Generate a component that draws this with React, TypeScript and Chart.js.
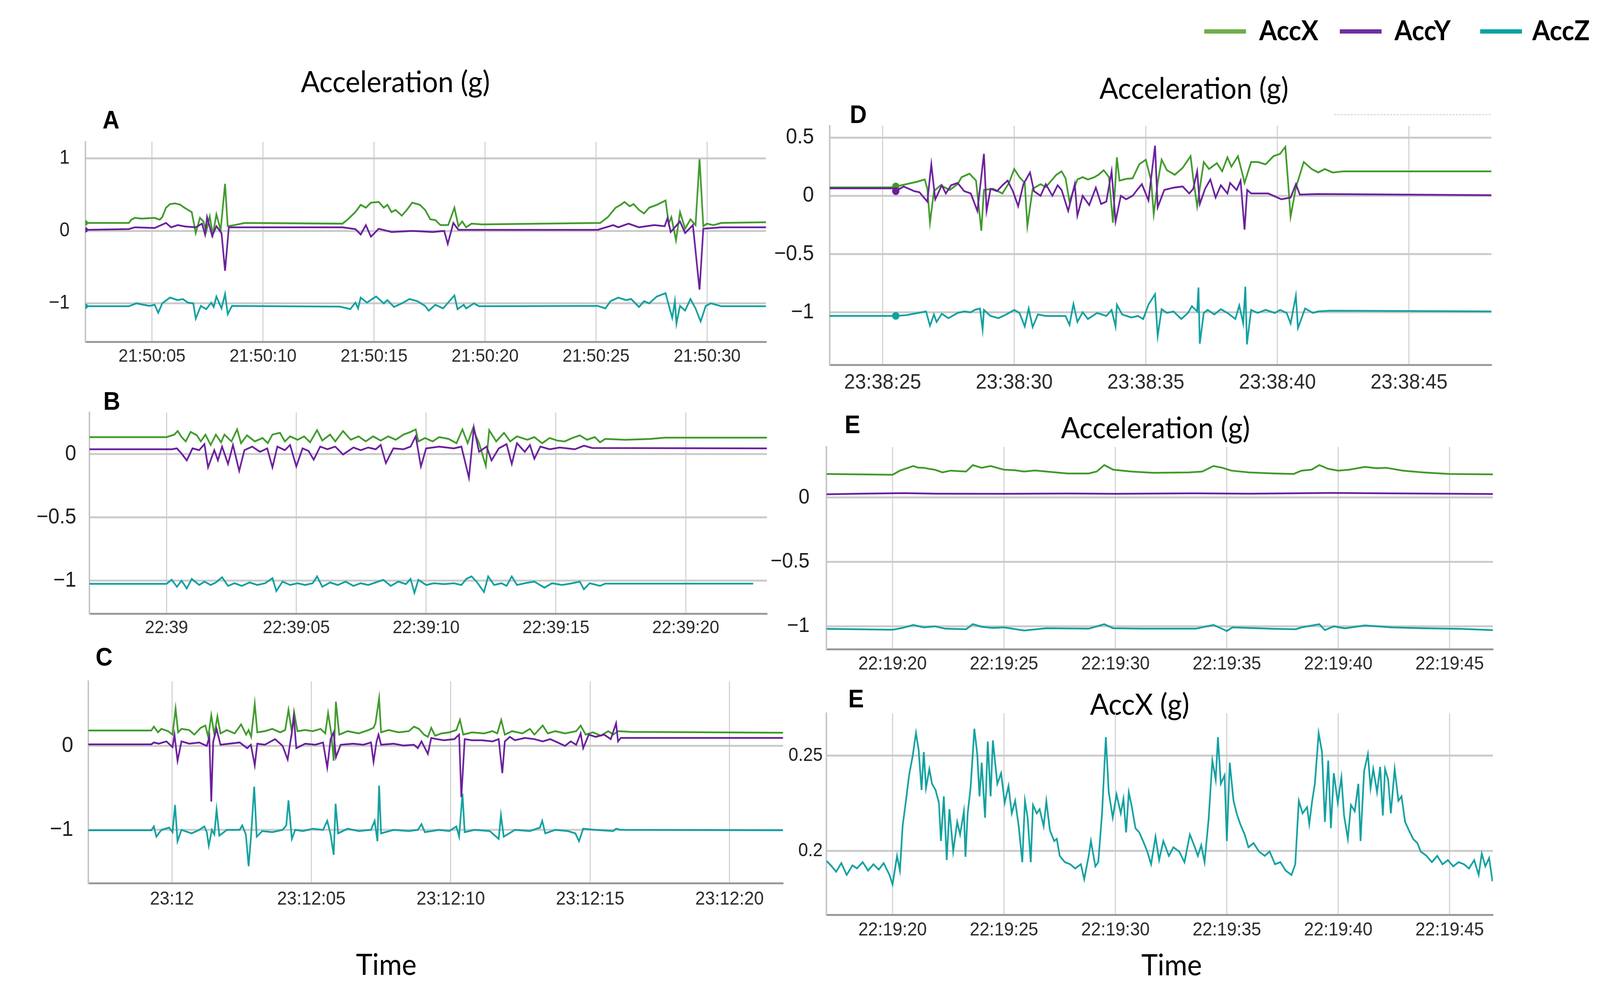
import { useEffect, useRef } from "react";
import { Chart, registerables } from "chart.js";

Chart.register(...registerables);

type Pt = [number, number];

const GREEN = "#3f9a2a";
const PURPLE = "#6a1f9c";
const TEAL = "#12a0a0";

// ---------- panel A : 21:50:xx ----------
const aTicksX = [5, 10, 15, 20, 25, 30];
const aLabelsX = ["21:50:05", "21:50:10", "21:50:15", "21:50:20", "21:50:25", "21:50:30"];
const aTicksY = [-1, 0, 1];
const aLabelsY = ["\u22121", "0", "1"];
const aAccX: Pt[] = [
  [2.0, 0.11], [3.96, 0.11], [4.07, 0.155], [4.23, 0.18], [4.54, 0.17], [5.12, 0.18], [5.35, 0.155],
  [5.46, 0.19], [5.63, 0.32], [5.81, 0.37], [6.04, 0.38], [6.28, 0.36], [6.46, 0.32], [6.62, 0.29],
  [6.79, 0.26], [6.97, -0.03], [7.16, 0.18], [7.32, 0.13], [7.44, -0.01], [7.6, 0.2], [7.74, -0.05],
  [7.9, 0.23], [8.09, 0.01], [8.29, 0.65], [8.41, 0.065], [8.71, 0.08], [9.18, 0.11], [13.58, 0.1],
  [13.82, 0.16], [14.16, 0.26], [14.4, 0.36], [14.63, 0.32], [14.86, 0.39], [15.21, 0.4], [15.44, 0.32],
  [15.6, 0.36], [15.79, 0.26], [15.97, 0.29], [16.25, 0.21], [16.48, 0.29], [16.72, 0.39], [17.06, 0.36],
  [17.3, 0.29], [17.53, 0.16], [17.76, 0.15], [17.99, 0.08], [18.34, 0.08], [18.62, 0.32], [18.8, 0.065],
  [18.97, 0.13], [19.15, 0.05], [19.39, 0.1], [19.85, 0.09], [25.19, 0.11], [25.53, 0.19], [25.88, 0.32],
  [26.11, 0.36], [26.28, 0.4], [26.51, 0.34], [26.69, 0.37], [26.93, 0.29], [27.16, 0.24], [27.39, 0.32],
  [27.74, 0.36], [28.13, 0.42], [28.27, 0.1], [28.39, 0.19], [28.6, -0.13], [28.78, 0.26], [29.01, 0.03],
  [29.25, 0.16], [29.48, 0.08], [29.66, 0.99], [29.83, 0.065], [29.99, 0.1], [30.29, 0.08], [30.64, 0.11],
  [32.66, 0.12],
];
const aAccY: Pt[] = [
  [2.0, 0.015], [3.96, 0.025], [4.23, 0.05], [5.12, 0.04], [5.63, 0.11], [5.86, 0.05], [6.16, 0.08],
  [6.51, 0.06], [6.97, 0.05], [7.25, 0.1], [7.39, -0.05], [7.48, 0.19], [7.71, -0.07], [7.9, 0.065],
  [8.13, -0.03], [8.29, -0.55], [8.46, 0.05], [9.06, 0.05], [13.58, 0.05], [14.16, 0.025], [14.4, -0.05],
  [14.63, 0.08], [14.86, -0.08], [15.21, 0.03], [15.79, -0.015], [16.72, 0.0], [17.65, -0.015],
  [18.16, 0.0], [18.32, -0.18], [18.57, 0.11], [18.8, 0.015], [25.07, 0.015], [25.77, 0.08], [26.0, 0.05],
  [26.46, 0.1], [26.93, 0.05], [27.62, 0.08], [28.09, 0.065], [28.22, 0.18], [28.36, -0.015],
  [28.78, 0.13], [29.01, -0.03], [29.36, 0.08], [29.66, -0.81], [29.83, 0.03], [30.64, 0.05],
  [32.66, 0.05],
];
const aAccZ: Pt[] = [
  [2.0, -1.04], [3.96, -1.04], [4.3, -1.0], [4.88, -1.035], [5.12, -1.02], [5.28, -1.13], [5.46, -1.0],
  [5.81, -0.92], [6.16, -0.955], [6.39, -0.94], [6.62, -0.99], [6.86, -1.0], [6.97, -1.21], [7.2, -1.035],
  [7.44, -1.08], [7.67, -0.99], [7.78, -1.05], [7.9, -0.905], [8.13, -1.07], [8.29, -0.87], [8.41, -1.15],
  [8.6, -1.035], [13.47, -1.045], [13.93, -1.08], [14.16, -0.99], [14.28, -1.07], [14.4, -0.92],
  [14.68, -0.99], [15.09, -0.905], [15.44, -1.0], [15.6, -0.955], [15.9, -1.05], [16.25, -1.0],
  [16.6, -0.94], [16.95, -0.97], [17.3, -1.035], [17.46, -1.1], [17.76, -1.02], [18.11, -1.07],
  [18.62, -0.89], [18.76, -1.08], [19.04, -1.02], [19.15, -1.07], [19.5, -1.0], [19.73, -1.04],
  [25.07, -1.035], [25.42, -1.07], [25.65, -0.97], [26.0, -0.92], [26.35, -0.955], [26.58, -0.94],
  [26.93, -1.05], [27.16, -0.97], [27.39, -1.0], [27.74, -0.905], [28.13, -0.86], [28.27, -1.02],
  [28.43, -1.2], [28.55, -0.97], [28.62, -1.28], [28.78, -1.035], [29.01, -1.1], [29.25, -0.94],
  [29.48, -1.07], [29.71, -1.25], [29.94, -1.035], [30.17, -1.0], [30.64, -1.04], [32.66, -1.04],
];

// ---------- panel B : 22:39:xx ----------
const bTicksX = [0, 5, 10, 15, 20];
const bLabelsX = ["22:39", "22:39:05", "22:39:10", "22:39:15", "22:39:20"];
const bTicksY = [-1, -0.5, 0];
const bLabelsY = ["\u22121", "\u22120.5", "0"];
const bAccX: Pt[] = [
  [-2.97, 0.134], [0.0, 0.134], [0.3, 0.154], [0.43, 0.182], [0.58, 0.134], [0.74, 0.1], [0.93, 0.175],
  [1.17, 0.148], [1.32, 0.1], [1.5, 0.154], [1.7, 0.072], [1.9, 0.154], [2.1, 0.093], [2.23, 0.154],
  [2.5, 0.1], [2.72, 0.195], [2.87, 0.086], [3.1, 0.148], [3.4, 0.1], [3.7, 0.127], [3.9, 0.086],
  [4.08, 0.154], [4.37, 0.168], [4.56, 0.1], [4.76, 0.14], [5.05, 0.113], [5.3, 0.14], [5.53, 0.093],
  [5.8, 0.189], [6.0, 0.107], [6.3, 0.154], [6.5, 0.1], [6.8, 0.182], [7.1, 0.113], [7.4, 0.14],
  [7.67, 0.1], [7.96, 0.14], [8.25, 0.107], [8.54, 0.14], [8.83, 0.113], [9.13, 0.154], [9.4, 0.175],
  [9.6, 0.195], [9.7, 0.1], [9.96, 0.127], [10.25, 0.1], [10.5, 0.134], [10.87, 0.12], [11.17, 0.086],
  [11.4, 0.195], [11.6, 0.086], [11.8, 0.202], [12.04, 0.086], [12.3, -0.092], [12.43, 0.189],
  [12.7, 0.1], [13.0, 0.168], [13.24, 0.1], [13.5, 0.14], [13.9, 0.113], [14.17, 0.134], [14.47, 0.086],
  [14.76, 0.127], [15.05, 0.107], [15.34, 0.1], [15.63, 0.127], [15.92, 0.148], [16.2, 0.113],
  [16.5, 0.134], [16.7, 0.093], [16.9, 0.12], [17.67, 0.113], [18.64, 0.12], [19.2, 0.13], [23.13, 0.13],
];
const bAccY: Pt[] = [
  [-2.97, 0.038], [0.2, 0.038], [0.4, 0.045], [0.58, 0.004], [0.78, -0.05], [1.0, 0.045], [1.26, 0.031],
  [1.46, 0.079], [1.6, -0.105], [1.84, 0.031], [1.98, -0.05], [2.14, 0.059], [2.37, -0.078], [2.56, 0.072],
  [2.8, -0.133], [3.0, 0.031], [3.3, 0.059], [3.6, 0.018], [3.88, 0.045], [4.08, -0.105], [4.27, 0.059],
  [4.56, 0.031], [4.76, 0.072], [5.0, -0.098], [5.24, 0.045], [5.47, 0.025], [5.67, -0.044], [5.92, 0.059],
  [6.2, 0.038], [6.5, 0.059], [6.8, -0.003], [7.2, 0.052], [7.48, 0.031], [7.77, 0.052], [8.06, 0.038],
  [8.25, 0.072], [8.45, -0.071], [8.74, 0.045], [9.13, 0.038], [9.4, 0.059], [9.6, 0.14], [9.8, -0.098],
  [10.0, 0.045], [10.5, 0.059], [11.07, 0.045], [11.36, 0.059], [11.65, -0.187], [11.84, 0.209],
  [12.04, 0.018], [12.33, 0.059], [12.52, -0.05], [12.8, 0.045], [13.1, 0.079], [13.3, -0.078],
  [13.5, 0.086], [13.8, 0.018], [14.0, 0.072], [14.17, -0.037], [14.4, 0.059], [14.76, 0.038],
  [15.15, 0.052], [15.73, 0.038], [16.08, 0.066], [16.4, 0.048], [23.13, 0.045],
];
const bAccZ: Pt[] = [
  [-2.97, -1.025], [0.0, -1.025], [0.2, -0.993], [0.4, -1.048], [0.58, -1.0], [0.78, -1.061],
  [0.97, -0.986], [1.26, -1.034], [1.46, -1.007], [1.7, -1.034], [1.9, -1.014], [2.14, -0.973],
  [2.37, -1.041], [2.62, -1.02], [2.9, -1.041], [3.2, -1.014], [3.5, -1.034], [3.8, -1.02], [4.08, -0.98],
  [4.23, -1.082], [4.47, -1.007], [4.76, -1.034], [5.05, -1.02], [5.34, -1.034], [5.63, -1.02],
  [5.8, -0.966], [6.0, -1.048], [6.3, -1.014], [6.6, -1.034], [6.9, -1.007], [7.2, -1.041], [7.48, -1.02],
  [7.77, -1.034], [8.06, -1.014], [8.35, -0.993], [8.64, -1.041], [8.93, -1.007], [9.22, -1.027],
  [9.4, -0.986], [9.55, -1.096], [9.7, -0.993], [10.0, -1.034], [10.3, -1.02], [10.7, -1.027],
  [11.07, -1.02], [11.36, -1.034], [11.55, -0.986], [11.75, -0.966], [11.94, -1.007], [12.23, -1.089],
  [12.39, -0.966], [12.62, -1.034], [12.9, -1.02], [13.1, -1.041], [13.3, -0.966], [13.5, -1.034],
  [13.8, -1.02], [14.17, -1.007], [14.56, -1.055], [14.85, -1.02], [15.24, -1.034], [15.63, -1.02],
  [15.92, -1.007], [16.08, -1.068], [16.3, -1.02], [16.7, -1.041], [16.9, -1.023], [22.6, -1.023],
];

// ---------- panel C : 23:12:xx ----------
const cTicksX = [0, 5, 10, 15, 20];
const cLabelsX = ["23:12", "23:12:05", "23:12:10", "23:12:15", "23:12:20"];
const cTicksY = [-1, 0];
const cLabelsY = ["\u22121", "0"];
const cAccX: Pt[] = [
  [-3.0, 0.184], [-0.74, 0.184], [-0.65, 0.23], [-0.5, 0.162], [-0.38, 0.203], [-0.14, 0.176],
  [0.02, 0.135], [0.13, 0.446], [0.22, 0.162], [0.34, 0.203], [0.62, 0.189], [0.8, 0.135], [1.03, 0.216],
  [1.2, 0.243], [1.3, 0.108], [1.41, 0.365], [1.52, 0.135], [1.63, 0.351], [1.74, 0.149], [1.97, 0.189],
  [2.25, 0.149], [2.48, 0.257], [2.66, 0.135], [2.75, 0.189], [2.84, 0.108], [2.97, 0.5], [3.06, 0.162],
  [3.33, 0.176], [3.6, 0.203], [3.88, 0.162], [4.06, 0.189], [4.18, 0.432], [4.3, 0.162], [4.38, 0.405],
  [4.5, 0.176], [4.78, 0.189], [5.05, 0.176], [5.33, 0.203], [5.5, 0.149], [5.6, 0.392], [5.72, 0.135],
  [5.8, -0.176], [5.88, 0.527], [6.0, 0.135], [6.3, 0.176], [6.7, 0.149], [7.05, 0.189], [7.23, 0.216],
  [7.3, 0.27], [7.43, 0.568], [7.5, 0.162], [7.77, 0.189], [8.13, 0.162], [8.5, 0.176], [8.68, 0.23],
  [8.86, 0.203], [9.04, 0.135], [9.18, 0.108], [9.3, 0.216], [9.44, 0.122], [9.67, 0.149], [9.95, 0.162],
  [10.2, 0.189], [10.33, 0.311], [10.45, 0.135], [10.76, 0.162], [11.2, 0.149], [11.5, 0.176],
  [11.67, 0.149], [11.81, 0.311], [11.94, 0.135], [12.2, 0.176], [12.57, 0.149], [12.84, 0.203],
  [13.0, 0.135], [13.3, 0.243], [13.48, 0.149], [13.75, 0.176], [14.1, 0.149], [14.5, 0.176],
  [14.66, 0.243], [14.84, 0.135], [15.1, 0.162], [15.38, 0.122], [15.65, 0.176], [15.83, 0.135],
  [16.0, 0.176], [16.47, 0.168], [21.92, 0.157],
];
const cAccY: Pt[] = [
  [-3.0, 0.019], [-0.74, 0.019], [-0.65, 0.041], [-0.47, 0.027], [-0.2, 0.054], [0.02, -0.014],
  [0.09, 0.135], [0.2, -0.176], [0.34, 0.054], [0.62, 0.027], [0.98, 0.041], [1.25, 0.0], [1.34, 0.108],
  [1.41, -0.662], [1.48, 0.054], [1.6, 0.203], [1.74, 0.014], [2.06, 0.027], [2.43, 0.041], [2.7, -0.027],
  [2.83, 0.014], [2.97, -0.23], [3.06, 0.027], [3.33, 0.014], [3.7, 0.081], [3.97, 0.0], [4.15, -0.162],
  [4.3, 0.162], [4.37, 0.351], [4.46, -0.027], [4.78, 0.027], [5.14, 0.014], [5.42, 0.041], [5.57, -0.257],
  [5.69, 0.081], [5.8, 0.162], [5.88, -0.135], [6.05, 0.014], [6.5, 0.027], [6.87, 0.014], [7.14, 0.041],
  [7.23, -0.189], [7.34, 0.054], [7.41, 0.135], [7.5, 0.014], [7.95, 0.027], [8.3, 0.005], [8.68, 0.014],
  [8.82, -0.027], [8.95, 0.054], [9.18, -0.095], [9.3, 0.095], [9.5, 0.081], [9.76, 0.068], [10.13, 0.081],
  [10.3, 0.135], [10.38, -0.61], [10.5, 0.081], [10.76, 0.068], [11.12, 0.068], [11.5, 0.054],
  [11.72, 0.081], [11.85, -0.324], [11.94, 0.054], [12.12, 0.108], [12.3, 0.068], [12.66, 0.095],
  [13.0, 0.081], [13.3, 0.054], [13.57, 0.081], [13.75, 0.054], [14.1, 0.0], [14.3, 0.054], [14.5, 0.014],
  [14.66, 0.149], [14.75, -0.027], [14.95, 0.135], [15.2, 0.108], [15.5, 0.135], [15.74, 0.081],
  [15.93, 0.27], [16.0, 0.054], [16.1, 0.095], [21.92, 0.095],
];
const cAccZ: Pt[] = [
  [-3.0, -1.005], [-0.74, -1.005], [-0.65, -0.959], [-0.56, -1.081], [-0.38, -1.0], [-0.1, -0.973],
  [0.02, -1.027], [0.11, -0.703], [0.2, -1.135], [0.34, -1.0], [0.7, -1.041], [0.98, -1.0], [1.16, -0.959],
  [1.25, -1.027], [1.32, -1.189], [1.43, -1.0], [1.52, -1.054], [1.6, -0.757], [1.7, -1.068], [1.97, -1.0],
  [2.43, -1.0], [2.52, -0.946], [2.65, -1.054], [2.75, -1.432], [2.84, -1.054], [2.95, -0.486],
  [3.04, -1.081], [3.24, -1.014], [3.6, -1.027], [3.97, -1.0], [4.1, -0.946], [4.18, -0.649], [4.3, -1.108],
  [4.42, -1.0], [4.7, -1.014], [5.05, -0.986], [5.42, -1.0], [5.57, -0.892], [5.69, -1.054], [5.8, -1.297],
  [5.87, -0.689], [5.96, -1.041], [6.3, -0.986], [6.7, -1.014], [7.14, -1.0], [7.27, -0.892],
  [7.37, -1.135], [7.43, -0.473], [7.5, -1.041], [7.95, -1.0], [8.5, -1.014], [8.82, -1.0], [8.95, -0.932],
  [9.07, -1.027], [9.58, -1.0], [9.95, -1.014], [10.2, -0.959], [10.3, -1.081], [10.42, -0.568],
  [10.5, -1.027], [10.85, -1.0], [11.4, -1.014], [11.72, -1.108], [11.8, -0.824], [11.9, -1.081],
  [12.3, -1.0], [12.84, -1.014], [13.2, -0.973], [13.28, -0.892], [13.39, -1.041], [13.75, -1.0],
  [14.2, -1.014], [14.47, -1.041], [14.6, -1.135], [14.75, -0.986], [15.2, -1.0], [15.83, -1.014],
  [15.93, -0.986], [16.1, -1.0], [21.92, -1.005],
];

// ---------- panel D : 23:38:xx ----------
const dTicksX = [25, 30, 35, 40, 45];
const dLabelsX = ["23:38:25", "23:38:30", "23:38:35", "23:38:40", "23:38:45"];
const dTicksY = [-1, -0.5, 0, 0.5];
const dLabelsY = ["\u22121", "\u22120.5", "0", "0.5"];
const dAccX: Pt[] = [
  [22.99, 0.072], [25.4, 0.072], [25.5, 0.08], [25.9, 0.1], [26.3, 0.12], [26.6, 0.14], [26.7, 0.06],
  [26.8, -0.23], [26.95, 0.04], [27.2, 0.09], [27.55, 0.05], [27.85, 0.1], [28.0, 0.16], [28.3, 0.19],
  [28.55, 0.13], [28.75, -0.3], [28.85, 0.05], [29.2, 0.06], [29.55, 0.02], [29.8, 0.11], [30.0, 0.23],
  [30.2, 0.16], [30.4, 0.11], [30.5, -0.26], [30.7, 0.06], [31.0, 0.1], [31.2, 0.075], [31.6, 0.18],
  [31.8, 0.21], [31.95, 0.15], [32.1, -0.05], [32.4, 0.14], [32.6, 0.16], [32.8, 0.14], [33.05, 0.16],
  [33.2, 0.18], [33.4, 0.22], [33.6, 0.16], [33.75, -0.23], [33.9, 0.33], [34.0, 0.13], [34.25, 0.145],
  [34.5, 0.15], [34.75, 0.27], [35.0, 0.31], [35.2, 0.13], [35.3, -0.16], [35.45, 0.11], [35.6, 0.31],
  [35.8, 0.22], [36.1, 0.18], [36.4, 0.24], [36.7, 0.34], [36.8, 0.15], [36.95, -0.09], [37.2, 0.29],
  [37.4, 0.23], [37.7, 0.28], [37.9, 0.21], [38.1, 0.33], [38.25, 0.25], [38.5, 0.34], [38.7, 0.16],
  [38.75, 0.11], [39.0, 0.29], [39.25, 0.29], [39.55, 0.27], [39.85, 0.34], [40.1, 0.36], [40.3, 0.42],
  [40.4, 0.13], [40.5, -0.18], [40.7, 0.07], [41.0, 0.29], [41.3, 0.23], [41.55, 0.2], [41.8, 0.23],
  [42.1, 0.2], [42.5, 0.21], [48.13, 0.21],
];
const dAccY: Pt[] = [
  [22.99, 0.064], [25.4, 0.064], [25.5, 0.04], [25.8, 0.08], [26.2, 0.04], [26.4, 0.03], [26.7, -0.05],
  [26.85, 0.27], [27.0, -0.03], [27.25, 0.09], [27.4, 0.02], [27.6, 0.09], [27.85, 0.11], [28.1, 0.04],
  [28.35, 0.02], [28.6, -0.13], [28.85, 0.36], [28.95, -0.13], [29.1, 0.06], [29.35, 0.04], [29.55, 0.09],
  [29.75, 0.13], [29.95, 0.04], [30.15, -0.09], [30.35, 0.1], [30.6, 0.2], [30.75, 0.04], [31.0, 0.0],
  [31.2, 0.1], [31.45, 0.0], [31.65, 0.09], [31.8, 0.05], [32.05, -0.13], [32.3, 0.1], [32.4, -0.17],
  [32.6, 0.0], [32.85, -0.08], [33.1, 0.07], [33.3, -0.07], [33.5, -0.05], [33.7, 0.21], [33.85, -0.22],
  [34.05, 0.0], [34.25, -0.03], [34.5, 0.0], [34.7, 0.06], [34.85, 0.1], [35.1, -0.04], [35.35, 0.43],
  [35.45, -0.1], [35.7, 0.05], [36.05, 0.07], [36.4, 0.08], [36.65, 0.02], [36.8, 0.06], [36.95, 0.21],
  [37.05, -0.07], [37.25, 0.06], [37.45, 0.14], [37.65, -0.015], [37.85, 0.09], [38.1, 0.02], [38.2, 0.11],
  [38.45, 0.05], [38.6, 0.13], [38.75, -0.29], [38.85, 0.05], [39.0, 0.02], [39.65, 0.02], [40.15, -0.03],
  [40.5, -0.015], [40.7, 0.1], [40.85, 0.01], [41.55, 0.015], [48.13, 0.005],
];
const dAccZ: Pt[] = [
  [22.99, -1.03], [25.4, -1.03], [25.5, -1.03], [25.9, -1.024], [26.35, -1.005], [26.65, -0.992],
  [26.8, -1.114], [26.95, -1.018], [27.05, -1.082], [27.25, -1.012], [27.5, -1.05], [27.85, -1.005],
  [28.1, -0.992], [28.35, -0.999], [28.5, -0.979], [28.7, -0.967], [28.8, -1.147], [28.85, -0.979],
  [29.1, -1.031], [29.4, -1.05], [29.7, -1.018], [30.0, -0.979], [30.2, -1.005], [30.4, -1.121],
  [30.55, -0.967], [30.7, -1.127], [30.9, -1.018], [31.2, -1.031], [31.95, -1.031], [32.1, -1.108],
  [32.25, -0.928], [32.4, -1.082], [32.6, -0.999], [32.8, -1.057], [33.15, -1.005], [33.5, -1.031],
  [33.7, -0.979], [33.85, -1.121], [33.9, -0.934], [34.1, -1.018], [34.45, -1.044], [34.7, -1.031],
  [34.9, -1.057], [35.1, -0.934], [35.35, -0.844], [35.45, -1.204], [35.6, -0.973], [35.8, -1.005],
  [36.05, -0.992], [36.35, -1.057], [36.6, -1.005], [36.75, -0.947], [36.95, -0.992], [37.0, -0.787],
  [37.05, -1.269], [37.2, -1.005], [37.35, -0.979], [37.6, -1.018], [37.85, -0.973], [38.1, -1.005],
  [38.4, -1.057], [38.55, -0.941], [38.7, -1.095], [38.78, -0.78], [38.84, -1.275], [39.0, -0.979],
  [39.25, -1.005], [39.55, -0.979], [39.9, -1.005], [40.1, -0.979], [40.35, -1.005], [40.5, -1.095],
  [40.7, -0.857], [40.78, -1.134], [41.05, -0.967], [41.35, -1.005], [41.55, -0.992], [42.0, -0.986],
  [48.13, -0.992],
];

// ---------- panel E : 22:19:xx ----------
const eTicksX = [20, 25, 30, 35, 40, 45];
const eLabelsX = ["22:19:20", "22:19:25", "22:19:30", "22:19:35", "22:19:40", "22:19:45"];
const eTicksY = [-1, -0.5, 0];
const eLabelsY = ["\u22121", "\u22120.5", "0"];
const eAccX: Pt[] = [
  [17.04, 0.183], [20.0, 0.177], [20.33, 0.209], [20.93, 0.245], [21.15, 0.232], [21.4, 0.231],
  [21.65, 0.222], [21.9, 0.216], [22.24, 0.195], [22.6, 0.209], [23.3, 0.202], [23.6, 0.252], [24.0, 0.231],
  [24.4, 0.245], [25.0, 0.216], [25.5, 0.212], [25.9, 0.202], [26.4, 0.21], [26.9, 0.202], [27.85, 0.187],
  [28.8, 0.187], [29.16, 0.202], [29.5, 0.252], [29.9, 0.216], [30.7, 0.202], [31.7, 0.192], [33.3, 0.195],
  [33.9, 0.202], [34.4, 0.245], [34.8, 0.231], [35.2, 0.209], [36.0, 0.195], [37.15, 0.187], [38.0, 0.183],
  [38.35, 0.209], [38.8, 0.216], [39.15, 0.252], [39.55, 0.223], [40.0, 0.209], [40.5, 0.216],
  [41.2, 0.238], [41.7, 0.228], [42.15, 0.231], [42.9, 0.209], [43.8, 0.195], [45.0, 0.183], [46.94, 0.18],
];
const eAccY: Pt[] = [
  [17.04, 0.025], [18.5, 0.03], [20.5, 0.034], [22.0, 0.03], [25.0, 0.029], [28.0, 0.031], [30.0, 0.029],
  [33.5, 0.033], [36.0, 0.03], [39.7, 0.036], [42.0, 0.033], [46.94, 0.027],
];
const eAccZ: Pt[] = [
  [17.04, -1.02], [20.0, -1.027], [20.45, -1.013], [20.93, -0.99], [21.4, -1.009], [21.9, -1.001],
  [22.36, -1.019], [23.3, -1.023], [23.6, -0.984], [24.0, -1.004], [24.5, -1.013], [25.0, -1.009],
  [25.9, -1.033], [26.9, -1.016], [28.8, -1.019], [29.5, -0.984], [29.9, -1.016], [31.2, -1.019],
  [33.6, -1.019], [34.4, -0.99], [35.0, -1.037], [35.25, -1.009], [37.15, -1.02], [38.1, -1.023],
  [38.35, -1.009], [39.15, -0.984], [39.4, -1.03], [39.8, -1.001], [40.3, -1.016], [41.2, -0.994],
  [42.4, -1.009], [43.8, -1.016], [45.5, -1.02], [46.94, -1.03],
];

// ---------- panel E (AccX only) ----------
const fTicksY = [0.2, 0.25];
const fLabelsY = ["0.2", "0.25"];
const fAccX: Pt[] = [
  [17.04, 0.1947], [17.23, 0.1924], [17.47, 0.1891], [17.7, 0.1936], [17.94, 0.1874], [18.2, 0.1924],
  [18.4, 0.1908], [18.66, 0.1941], [18.9, 0.1897], [19.14, 0.193], [19.38, 0.1902], [19.6, 0.1936],
  [19.86, 0.1874], [20.0, 0.1824], [20.2, 0.1974], [20.33, 0.1897], [20.45, 0.213], [20.6, 0.2263],
  [20.74, 0.2397], [20.9, 0.2497], [21.05, 0.2619], [21.17, 0.253], [21.3, 0.2319], [21.4, 0.2519],
  [21.5, 0.233], [21.65, 0.243], [21.77, 0.2352], [21.93, 0.2319], [22.08, 0.2252], [22.17, 0.2052],
  [22.3, 0.2286], [22.43, 0.1952], [22.55, 0.2219], [22.72, 0.1997], [22.9, 0.2152], [23.03, 0.2086],
  [23.2, 0.2208], [23.27, 0.1969], [23.37, 0.2197], [23.5, 0.233], [23.67, 0.2641], [23.8, 0.2508],
  [23.9, 0.2286], [24.0, 0.2463], [24.15, 0.2174], [24.27, 0.2574], [24.4, 0.2286], [24.5, 0.258],
  [24.7, 0.2352], [24.87, 0.2408], [25.03, 0.2252], [25.2, 0.2341], [25.35, 0.2197], [25.5, 0.2263],
  [25.66, 0.213], [25.82, 0.1941], [25.94, 0.2263], [26.06, 0.2174], [26.2, 0.1941], [26.3, 0.2241],
  [26.47, 0.2197], [26.6, 0.2219], [26.78, 0.213], [26.9, 0.2263], [27.06, 0.2108], [27.25, 0.2052],
  [27.37, 0.2063], [27.5, 0.1974], [27.73, 0.1941], [27.97, 0.193], [28.2, 0.1908], [28.45, 0.193],
  [28.6, 0.1852], [28.8, 0.1974], [28.9, 0.2052], [29.1, 0.1919], [29.23, 0.1941], [29.4, 0.2197],
  [29.57, 0.2597], [29.7, 0.2308], [29.88, 0.2174], [30.05, 0.2297], [30.24, 0.2197], [30.36, 0.2274],
  [30.48, 0.2097], [30.6, 0.2308], [30.72, 0.2241], [30.9, 0.2119], [31.07, 0.2097], [31.24, 0.2052],
  [31.43, 0.1997], [31.6, 0.193], [31.8, 0.2074], [31.96, 0.1952], [32.15, 0.2052], [32.4, 0.1974],
  [32.6, 0.2019], [32.86, 0.1997], [33.1, 0.1941], [33.34, 0.2086], [33.53, 0.203], [33.7, 0.1974],
  [33.85, 0.203], [34.0, 0.1941], [34.18, 0.2163], [34.35, 0.2474], [34.5, 0.2374], [34.6, 0.2597],
  [34.73, 0.2352], [34.9, 0.2397], [35.0, 0.2052], [35.13, 0.2463], [35.3, 0.2263], [35.44, 0.2197],
  [35.6, 0.2141], [35.8, 0.2086], [35.97, 0.2019], [36.2, 0.2041], [36.44, 0.1997], [36.7, 0.1974],
  [36.92, 0.1997], [37.16, 0.193], [37.4, 0.1941], [37.64, 0.1897], [37.9, 0.1874], [38.07, 0.193],
  [38.23, 0.2263], [38.4, 0.2197], [38.6, 0.223], [38.7, 0.2141], [38.83, 0.2263], [38.95, 0.2352],
  [39.12, 0.2619], [39.27, 0.2519], [39.4, 0.2152], [39.55, 0.2474], [39.67, 0.2119], [39.8, 0.2408],
  [39.98, 0.2252], [40.14, 0.2386], [40.26, 0.2186], [40.43, 0.2063], [40.57, 0.2241], [40.74, 0.2208],
  [40.9, 0.2352], [41.0, 0.2052], [41.16, 0.2419], [41.33, 0.2508], [41.45, 0.233], [41.57, 0.243],
  [41.74, 0.2308], [41.88, 0.2441], [42.0, 0.2186], [42.1, 0.243], [42.24, 0.2374], [42.36, 0.2197],
  [42.53, 0.243], [42.7, 0.2263], [42.84, 0.2286], [43.0, 0.2152], [43.17, 0.2108], [43.36, 0.2063],
  [43.55, 0.2041], [43.7, 0.1997], [43.96, 0.1974], [44.2, 0.1941], [44.44, 0.1974], [44.68, 0.193],
  [44.92, 0.1952], [45.16, 0.1919], [45.4, 0.1941], [45.64, 0.193], [45.87, 0.1908], [46.1, 0.1952],
  [46.3, 0.1874], [46.44, 0.1986], [46.6, 0.1919], [46.77, 0.1963], [46.92, 0.1841],
];

const PAGE_W = 4366;
const PAGE_H = 2550;
const Y_W = 300; // fixed width of y axis box
const X_H = 110; // fixed height of x axis box
const TICK_FONT = "'Liberation Sans', Arial, sans-serif";
const TITLE_FONT = "Lato, 'Open Sans', sans-serif";

type Series = { data: Pt[]; color: string };

type PanelProps = {
  left: number;
  top: number;
  right: number;
  bottom: number;
  xMin: number;
  xMax: number;
  yMin: number;
  yMax: number;
  xTicks: number[];
  xLabels: string[];
  yTicks: number[];
  yLabels: string[];
  series: Series[];
  markerX?: number;
  markerR?: number;
  xFont: number;
  yFont: number;
  xPad: number;
  yPad: number;
};

const Panel = (p: PanelProps) => {
  const chartRef = useRef<HTMLCanvasElement>(null);

  useEffect(() => {
    if (!chartRef.current) return;

    const chart = new Chart(chartRef.current, {
      type: "line",
      data: {
        datasets: p.series.map((s) => ({
          data: s.data.map(([x, y]) => ({ x, y })),
          borderColor: s.color,
          backgroundColor: s.color,
          borderWidth: 4.5,
          tension: 0,
          fill: false,
          pointBorderWidth: 0,
          pointRadius: (ctx: any) =>
            p.markerX !== undefined && ctx.raw && ctx.raw.x === p.markerX ? p.markerR || 0 : 0,
          pointHoverRadius: 0,
        })),
      },
      options: {
        animation: false,
        responsive: true,
        maintainAspectRatio: false,
        events: [],
        layout: { padding: 0 },
        plugins: {
          legend: { display: false },
          tooltip: { enabled: false },
        },
        scales: {
          x: {
            type: "linear",
            min: p.xMin,
            max: p.xMax,
            afterBuildTicks: (scale: any) => {
              scale.ticks = p.xTicks.map((v) => ({ value: v }));
            },
            afterFit: (scale: any) => {
              scale.height = X_H;
              scale.paddingLeft = 0;
              scale.paddingRight = 0;
            },
            grid: { color: "#d2d2d2", lineWidth: 3, drawTicks: false },
            border: { color: "#9a9a9a", width: 5 },
            ticks: {
              padding: p.xPad,
              color: "#2a2a2a",
              maxRotation: 0,
              autoSkip: false,
              font: { family: TICK_FONT, size: p.xFont },
              callback: (_v: any, i: number) => p.xLabels[i],
            },
          },
          y: {
            type: "linear",
            min: p.yMin,
            max: p.yMax,
            afterBuildTicks: (scale: any) => {
              scale.ticks = p.yTicks.map((v) => ({ value: v }));
            },
            afterFit: (scale: any) => {
              scale.width = Y_W;
              scale.paddingTop = 0;
              scale.paddingBottom = 0;
              scale.paddingLeft = 0;
              scale.paddingRight = 0;
            },
            grid: { color: "#cbcbcb", lineWidth: 5, drawTicks: false },
            border: { color: "#c4c4c4", width: 4 },
            ticks: {
              padding: p.yPad,
              color: "#1e1e1e",
              autoSkip: false,
              font: { family: TICK_FONT, size: p.yFont },
              callback: (_v: any, i: number) => p.yLabels[i],
            },
          },
        },
      },
    });

    return () => {
      chart.destroy();
    };
  }, []);

  return (
    <div
      style={{
        position: "absolute",
        left: p.left - Y_W,
        top: p.top,
        width: p.right - p.left + Y_W,
        height: p.bottom - p.top + X_H,
      }}
    >
      <canvas ref={chartRef} />
    </div>
  );
};

const Text = ({
  x,
  y,
  size,
  bold,
  font,
  children,
}: {
  x: number;
  y: number;
  size: number;
  bold?: boolean;
  font: string;
  children: string;
}) => (
  <div
    style={{
      position: "absolute",
      left: x,
      top: y,
      transform: "translate(-50%, -50%)",
      fontFamily: font,
      fontSize: size,
      fontWeight: bold ? 700 : 400,
      lineHeight: 1,
      whiteSpace: "nowrap",
      color: "#000",
    }}
  >
    {children}
  </div>
);

const LegendItem = ({ x, textX, color, label }: { x: number; textX: number; color: string; label: string }) => (
  <>
    <div style={{ position: "absolute", left: x, top: 75, width: 114, height: 11, background: color }} />
    <div
      style={{
        position: "absolute",
        left: textX,
        top: 76,
        transform: "translateY(-50%)",
        fontFamily: TITLE_FONT,
        fontWeight: 700,
        fontSize: 70,
        lineHeight: 1,
        color: "#000",
      }}
    >
      {label}
    </div>
  </>
);

const App = () => {
  const rgb = [PURPLE, GREEN, TEAL];
  // the page is laid out in reference pixels and stretched onto the viewport we are given
  const sx = window.innerWidth / PAGE_W;
  const sy = window.innerHeight / PAGE_H;

  return (
    <div style={{ position: "fixed", left: 0, top: 0, right: 0, bottom: 0, overflow: "hidden", background: "#fff" }}>
      <div
        style={{
          position: "absolute",
          left: 0,
          top: 0,
          width: PAGE_W,
          height: PAGE_H,
          background: "#fff",
          transform: `scale(${sx}, ${sy})`,
          transformOrigin: "0 0",
        }}
      >
        <LegendItem x={3286} textX={3436} color="#70ad47" label="AccX" />
        <LegendItem x={3656} textX={3805} color="#7030a0" label="AccY" />
        <LegendItem x={4039} textX={4181} color="#00a3a3" label="AccZ" />

        <Text x={1079} y={207} size={76} font={TITLE_FONT}>Acceleration (g)</Text>
        <Text x={3258} y={224} size={76} font={TITLE_FONT}>Acceleration (g)</Text>
        <Text x={3153} y={1093} size={76} font={TITLE_FONT}>Acceleration (g)</Text>
        <Text x={3110} y={1801} size={76} font={TITLE_FONT}>AccX (g)</Text>
        <Text x={1054} y={2467} size={76} font={TITLE_FONT}>Time</Text>
        <Text x={3197} y={2468} size={76} font={TITLE_FONT}>Time</Text>

        <Text x={303} y={307} size={64} bold font={TICK_FONT}>A</Text>
        <Text x={305} y={1027} size={64} bold font={TICK_FONT}>B</Text>
        <Text x={284} y={1682} size={64} bold font={TICK_FONT}>C</Text>
        <Text x={2342} y={293} size={64} bold font={TICK_FONT}>D</Text>
        <Text x={2326} y={1087} size={64} bold font={TICK_FONT}>E</Text>
        <Text x={2336} y={1789} size={64} bold font={TICK_FONT}>E</Text>

        <div
          style={{
            position: "absolute",
            left: 3641,
            top: 292,
            width: 427,
            borderTop: "3px dashed #dcdcdc",
          }}
        />

        <Panel
          left={233} top={356} right={2097} bottom={875}
          xMin={2.0} xMax={32.65} yMin={-1.53} yMax={1.23}
          xTicks={aTicksX} xLabels={aLabelsX} yTicks={aTicksY} yLabels={aLabelsY}
          series={[aAccY, aAccX, aAccZ].map((d, i) => ({ data: d, color: rgb[i] }))}
          markerX={2.0} markerR={7}
          xFont={47} yFont={50} xPad={10} yPad={43}
        />
        <Panel
          left={244} top={1054} right={2095} bottom={1571}
          xMin={-2.97} xMax={23.13} yMin={-1.26} yMax={0.328}
          xTicks={bTicksX} xLabels={bLabelsX} yTicks={bTicksY} yLabels={bLabelsY}
          series={[bAccY, bAccX, bAccZ].map((d, i) => ({ data: d, color: rgb[i] }))}
          xFont={47} yFont={55} xPad={9} yPad={36}
        />
        <Panel
          left={241} top={1742} right={2139} bottom={2261}
          xMin={-3.0} xMax={21.92} yMin={-1.634} yMax={0.77}
          xTicks={cTicksX} xLabels={cLabelsX} yTicks={cTicksY} yLabels={cLabelsY}
          series={[cAccY, cAccX, cAccZ].map((d, i) => ({ data: d, color: rgb[i] }))}
          xFont={48} yFont={56} xPad={13} yPad={41}
        />
        <Panel
          left={2264} top={320} right={4072} bottom={934}
          xMin={22.99} xMax={48.13} yMin={-1.45} yMax={0.6}
          xTicks={dTicksX} xLabels={dLabelsX} yTicks={dTicksY} yLabels={dLabelsY}
          series={[dAccY, dAccX, dAccZ].map((d, i) => ({ data: d, color: rgb[i] }))}
          markerX={25.5} markerR={10}
          xFont={54} yFont={55} xPad={14} yPad={43}
        />
        <Panel
          left={2255} top={1142} right={4076} bottom={1662}
          xMin={17.03} xMax={46.94} yMin={-1.178} yMax={0.393}
          xTicks={eTicksX} xLabels={eLabelsX} yTicks={eTicksY} yLabels={eLabelsY}
          series={[eAccY, eAccX, eAccZ].map((d, i) => ({ data: d, color: rgb[i] }))}
          xFont={48} yFont={54} xPad={10} yPad={46}
        />
        <Panel
          left={2255} top={1824} right={4076} bottom={2342}
          xMin={17.03} xMax={46.94} yMin={0.1665} yMax={0.2722}
          xTicks={eTicksX} xLabels={eLabelsX} yTicks={fTicksY} yLabels={fLabelsY}
          series={[{ data: fAccX, color: TEAL }]}
          xFont={48} yFont={48} xPad={11} yPad={10}
        />
      </div>
    </div>
  );
};

export default App;
